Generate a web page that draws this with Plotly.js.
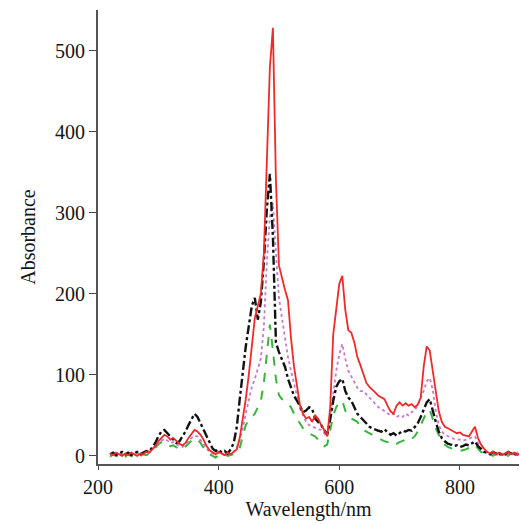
<!DOCTYPE html>
<html>
<head>
<meta charset="utf-8">
<script src="https://cdn.plot.ly/plotly-3.0.1.min.js"></script>
<style>html,body{margin:0;padding:0;background:#fff;}</style>
</head>
<body>
<div id="chart" style="width:521px;height:525px;"></div>
<script>
// Wavelength grid (nm), 5 nm steps from 220 to 900
const wavelength = [220,225,230,235,240,245,250,255,260,265,270,275,280,285,290,295,300,305,310,315,320,325,330,335,340,345,350,355,360,365,370,375,380,385,390,395,400,405,410,415,420,425,430,435,440,445,450,455,460,465,470,475,480,485,490,495,500,505,510,515,520,525,530,535,540,545,550,555,560,565,570,575,580,585,590,595,600,605,610,615,620,625,630,635,640,645,650,655,660,665,670,675,680,685,690,695,700,705,710,715,720,725,730,735,740,745,750,755,760,765,770,775,780,785,790,795,800,805,810,815,820,825,830,835,840,845,850,855,860,865,870,875,880,885,890,895,900];

const redSolid = [3,1,4,2,0,3,1,4,2,0,3,2,5,4,8,12,18,22,26,24,20,22,18,15,13,16,22,27,32,30,26,20,12,7,4,2,5,3,1,4,2,5,8,22,45,70,100,135,170,185,200,250,375,480,528,340,235,218,205,192,145,110,88,62,52,46,48,42,50,46,38,32,24,60,150,185,212,222,180,155,152,140,122,112,100,90,85,82,78,74,72,70,62,55,52,62,66,62,65,62,64,60,63,72,110,135,130,105,75,55,42,36,34,32,30,28,29,26,25,24,30,36,22,14,9,5,3,5,2,4,1,3,5,2,4,1,3];

const blackDashDot = [2,4,1,3,5,2,4,1,3,5,2,4,6,5,10,16,24,30,32,28,24,20,16,18,24,30,38,46,52,48,40,34,26,16,9,6,8,4,6,3,8,16,35,70,105,135,160,185,195,168,190,240,305,348,270,140,128,118,110,95,85,74,68,60,54,56,60,58,46,42,38,32,26,45,68,85,92,95,80,72,68,60,52,48,44,40,36,34,32,31,30,33,29,26,28,25,28,31,30,32,31,36,40,48,58,66,70,55,42,30,22,18,15,14,12,13,11,12,14,13,15,18,12,8,5,4,2,5,3,1,4,2,5,3,1,4,2];

const magentaDotted = [2,3,1,4,2,3,1,3,2,4,1,3,4,5,8,12,16,19,21,19,16,17,14,12,11,14,18,22,25,24,20,15,9,5,3,2,4,2,1,3,2,5,10,20,34,52,70,85,95,108,120,160,240,295,312,250,195,170,145,122,105,88,72,58,50,42,38,36,35,33,32,28,24,48,80,105,125,138,120,105,98,90,84,80,80,76,72,68,64,60,58,55,52,50,52,48,50,48,52,50,54,56,62,70,80,92,96,82,55,38,30,26,24,22,21,20,20,19,20,21,23,24,16,10,6,4,2,3,1,3,2,4,1,3,2,4,1];

const greenDashed = [-1,2,0,-2,1,-1,2,0,-2,1,0,2,1,3,6,10,14,17,18,15,12,13,10,8,8,11,15,19,22,20,16,10,5,2,0,-2,1,-1,2,0,1,2,4,10,24,38,44,48,52,60,68,90,130,162,130,95,75,70,68,64,60,52,46,40,34,30,28,26,24,20,16,12,14,30,50,60,66,68,56,50,46,44,42,36,32,30,28,26,23,21,20,18,17,16,18,15,17,19,20,18,21,24,30,38,44,54,57,44,34,26,20,14,11,9,8,7,6,7,8,10,12,14,9,5,3,1,2,0,3,1,-1,2,0,3,1,-1,2];

const xTicks = [200,400,600,800];
const yTicks = [0,100,200,300,400,500];

const font = "'Liberation Serif', 'Times New Roman', serif";

const traces = [
  {x: wavelength, y: greenDashed, mode: 'lines', line: {color: '#3cb43c', width: 2, dash: 'dash'}},
  {x: wavelength, y: magentaDotted, mode: 'lines', line: {color: '#c878c8', width: 1.8, dash: 'dot'}},
  {x: wavelength, y: blackDashDot, mode: 'lines', line: {color: '#111111', width: 2.4, dash: 'dashdot'}},
  {x: wavelength, y: redSolid, mode: 'lines', line: {color: '#ee2a2a', width: 1.8}}
];

const layout = {
  width: 521, height: 525,
  margin: {l: 98, r: 2, t: 10, b: 61},
  showlegend: false,
  paper_bgcolor: '#fff', plot_bgcolor: '#fff',
  font: {family: font, size: 20, color: '#151515'},
  xaxis: {
    range: [200, 898], tickvals: xTicks, ticktext: xTicks.map(String),
    showgrid: false, zeroline: false, showline: true, linecolor: '#555', linewidth: 2,
    ticks: 'outside', ticklen: 4, tickcolor: '#444', tickwidth: 1,
    tickfont: {family: font, size: 20},
    title: {text: 'Wavelength/nm', font: {family: font, size: 20}, standoff: 4}
  },
  yaxis: {
    range: [-10, 550], tickvals: yTicks, ticktext: yTicks.map(String),
    showgrid: false, zeroline: false, showline: true, linecolor: '#555', linewidth: 2,
    ticks: 'outside', ticklen: 7, tickcolor: '#444', tickwidth: 1,
    tickfont: {family: font, size: 20},
    title: {text: 'Absorbance', font: {family: font, size: 20}, standoff: 14}
  }
};

Plotly.newPlot('chart', traces, layout, {displayModeBar: false, staticPlot: true});
</script>
</body>
</html>
